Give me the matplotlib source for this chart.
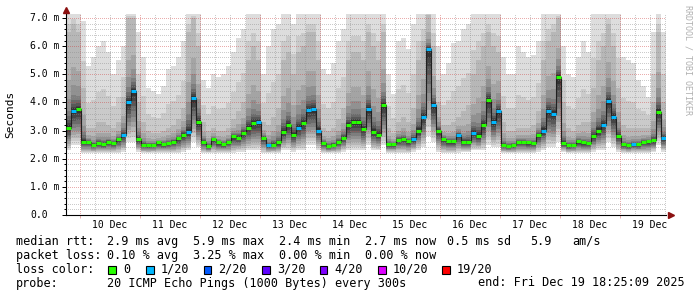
import numpy as np
import matplotlib
matplotlib.use('Agg')
import matplotlib.pyplot as plt
from matplotlib.patches import Rectangle
from datetime import datetime, timedelta

# graph window: 10 days ending Fri Dec 19 18:25:09 2025
start = datetime(2025, 12, 9, 18, 25, 9)
hours_total = 240

# median rtt per 2h step (ms)
median = [3.10, 3.70, 3.75, 2.60, 2.60, 2.50, 2.56, 2.53, 2.60, 2.55,
          2.70, 2.85, 4.00, 4.40, 2.70, 2.50, 2.48, 2.50, 2.58, 2.53,
          2.56, 2.60, 2.72, 2.86, 2.95, 4.15, 3.30, 2.60, 2.45, 2.70,
          2.58, 2.53, 2.60, 2.80, 2.75, 2.92, 3.10, 3.26, 3.30, 2.75,
          2.48, 2.50, 2.58, 2.95, 3.20, 2.85, 3.10, 3.26, 3.73, 3.76,
          3.00, 2.55, 2.45, 2.50, 2.60, 2.75, 3.20, 3.30, 3.30, 3.05,
          3.76, 2.95, 2.85, 3.90, 2.52, 2.52, 2.68, 2.70, 2.62, 2.70,
          3.00, 3.50, 5.90, 3.90, 3.00, 2.70, 2.62, 2.62, 2.85, 2.60,
          2.60, 2.92, 2.80, 3.20, 4.10, 3.30, 3.70, 2.50, 2.45, 2.48,
          2.60, 2.60, 2.58, 2.56, 2.85, 3.00, 3.70, 3.60, 4.90, 2.55,
          2.47, 2.50, 2.62, 2.58, 2.55, 2.80, 3.00, 3.20, 4.05, 3.50,
          2.80, 2.52, 2.47, 2.53, 2.52, 2.60, 2.62, 2.65, 3.67, 2.73]

# lost pings per step (index into loss_levels)
loss = [0, 1, 0, 0, 0, 0, 0, 0, 0, 0,
        0, 1, 1, 1, 0, 0, 0, 0, 0, 0,
        0, 0, 0, 0, 1, 1, 0, 0, 0, 0,
        0, 0, 0, 0, 0, 0, 0, 0, 1, 0,
        1, 0, 0, 0, 0, 0, 1, 0, 1, 1,
        1, 0, 0, 0, 0, 0, 0, 0, 0, 0,
        1, 0, 0, 0, 0, 0, 0, 0, 0, 1,
        0, 1, 1, 1, 0, 0, 0, 0, 1, 0,
        0, 1, 0, 0, 0, 1, 1, 0, 0, 0,
        0, 0, 0, 0, 0, 1, 1, 1, 0, 0,
        0, 0, 0, 0, 0, 0, 0, 1, 1, 1,
        0, 0, 0, 1, 0, 0, 0, 0, 0, 1]

# smoke: fastest ping, 3rd slowest ping, slowest ping (ms)
ping_min = [2.30, 2.50, 2.50, 2.20, 2.20, 2.20, 2.20, 2.20, 2.20, 2.20,
            2.20, 2.25, 2.60, 2.60, 2.25, 2.20, 2.20, 2.20, 2.20, 2.20,
            2.20, 2.20, 2.20, 2.25, 2.30, 2.60, 2.40, 2.20, 2.20, 2.20,
            2.20, 2.20, 2.20, 2.20, 2.25, 2.25, 2.30, 2.30, 2.30, 2.20,
            2.20, 2.20, 2.20, 2.30, 2.30, 2.25, 2.30, 2.30, 2.50, 2.50,
            2.30, 2.20, 2.20, 2.20, 2.20, 2.25, 2.30, 2.30, 2.30, 2.30,
            2.50, 2.30, 2.30, 2.50, 2.20, 2.20, 2.20, 2.20, 2.20, 2.25,
            2.30, 2.40, 2.80, 2.60, 2.25, 2.20, 2.20, 2.20, 2.20, 2.25,
            2.25, 2.30, 2.30, 2.30, 2.50, 2.40, 2.40, 2.20, 2.20, 2.20,
            2.20, 2.20, 2.20, 2.20, 2.25, 2.30, 2.40, 2.40, 2.60, 2.25,
            2.20, 2.20, 2.20, 2.20, 2.20, 2.25, 2.30, 2.30, 2.60, 2.40,
            2.25, 2.20, 2.20, 2.20, 2.20, 2.20, 2.20, 2.25, 2.50, 2.25]

ping_q = [6.5, 6.8, 6.5, 4.5, 3.1, 3.1, 3.3, 3.3, 3.2, 3.1,
          3.3, 4.2, 7.0, 7.0, 4.0, 3.3, 3.0, 2.9, 2.9, 3.0,
          3.1, 3.2, 3.4, 3.8, 6.5, 7.0, 6.0, 3.3, 3.0, 3.1,
          3.0, 3.0, 3.1, 3.4, 3.7, 4.0, 5.5, 6.0, 5.5, 3.3,
          3.2, 3.5, 3.8, 5.5, 5.8, 5.0, 5.8, 6.0, 6.5, 6.5,
          5.5, 3.1, 3.0, 3.1, 3.4, 3.8, 5.5, 5.8, 5.8, 5.5,
          6.5, 6.0, 5.5, 6.5, 3.1, 2.9, 3.3, 3.5, 3.3, 3.8,
          5.5, 6.2, 7.1, 6.0, 4.0, 3.2, 3.2, 3.3, 3.5, 3.7,
          3.9, 5.0, 5.5, 6.0, 6.5, 6.0, 5.8, 3.3, 3.0, 3.0,
          3.1, 3.1, 3.1, 3.2, 3.7, 5.5, 6.2, 6.5, 7.0, 4.0,
          3.1, 3.0, 3.2, 3.3, 3.3, 4.5, 5.5, 6.0, 6.8, 6.0,
          4.5, 3.2, 3.1, 3.1, 3.1, 3.1, 3.1, 4.0, 6.5, 4.0]

ping_max = [7.2, 7.2, 7.2, 6.9, 5.3, 5.6, 6.0, 6.2, 5.8, 5.0,
            5.5, 6.0, 7.2, 7.2, 6.5, 5.6, 4.5, 4.4, 4.3, 4.6,
            5.2, 5.3, 5.6, 6.2, 7.2, 7.2, 7.2, 4.8, 4.5, 5.0,
            4.9, 5.0, 5.3, 5.8, 6.3, 6.6, 7.2, 7.2, 7.2, 5.0,
            6.0, 6.6, 6.8, 7.2, 7.2, 6.8, 7.2, 7.2, 7.2, 7.2,
            7.2, 5.2, 5.0, 5.4, 6.2, 6.6, 7.2, 7.2, 7.2, 7.2,
            7.2, 7.2, 7.2, 7.2, 5.0, 4.3, 6.2, 6.3, 5.9, 6.8,
            7.2, 7.2, 7.2, 7.2, 6.0, 5.0, 5.4, 6.1, 6.2, 6.6,
            6.8, 7.2, 7.2, 7.2, 7.2, 7.2, 7.2, 5.6, 5.0, 5.0,
            6.0, 5.8, 5.6, 5.7, 6.2, 7.2, 7.2, 7.2, 7.2, 6.0,
            5.0, 4.9, 5.6, 6.2, 5.8, 7.2, 7.2, 7.2, 7.2, 7.2,
            7.2, 5.6, 5.5, 5.4, 4.8, 4.6, 4.2, 6.5, 7.2, 6.5]

loss_levels = ['0', '1/20', '2/20', '3/20', '4/20', '10/20', '19/20']
loss_colors = ['#26ff00', '#00b8ff', '#0059ff', '#5e00ff', '#7e00ff', '#dd00ff', '#ff0000']

W, H = 697, 297
x0, x1, y0 = 66, 666, 215
ppu = 28.14          # pixels per ms
ymax = 7.15

fig = plt.figure(figsize=(W / 100, H / 100), dpi=100)
fig.patch.set_facecolor('white')
ax = fig.add_axes([x0 / W, (H - y0) / H, (x1 - x0) / W, ymax * ppu / H])
ax.set_xlim(0, hours_total)
ax.set_ylim(0, ymax)

n = len(median)
step = hours_total / n
t = np.arange(n) * step + step / 2
med = np.array(median)
lo = np.array(ping_min)
q = np.array(ping_q)
hi = np.array(ping_max)

# smoke, 10 nested bands like smokeping (outer light -> inner dark)
# upper edges squeeze towards the median, lower edges spread evenly
up_frac = [None, None, None, 0.5, 0.3, 0.18, 0.12, 0.08, 0.05, 0.03]
for k in range(10):
    g = (9 - k) * 19 + 50
    if k == 0:
        top = hi
    elif k == 1:
        top = q + (hi - q) * 0.4
    elif k == 2:
        top = q
    else:
        top = med + (q - med) * up_frac[k]
    bot = lo + (med - lo) * k / 10
    ax.bar(t, top - bot, bottom=bot, width=step, color='#%02x%02x%02x' % (g, g, g),
           linewidth=0, zorder=1)

# grid (dotted, drawn over the smoke like rrdtool)
minor_c = (0.55, 0.55, 0.55, 0.45)
major_c = (0.8, 0.2, 0.2, 0.4)
dots = (0, (1, 2))
for v in np.arange(0.2, ymax, 0.2):
    if abs(v - round(v)) > 0.01:
        ax.axhline(v, color=minor_c, lw=0.72, ls=dots, zorder=2, antialiased=False)
for v in range(1, 8):
    ax.axhline(v, color=major_c, lw=0.72, ls=dots, zorder=2, antialiased=False)

first_mid = (datetime(2025, 12, 10) - start).total_seconds() / 3600
midnights = [first_mid + 24 * d for d in range(10)]
quarters = [first_mid - 6 + 6 * i for i in range(41) if first_mid - 6 + 6 * i < hours_total]
for qq in quarters:
    if min(abs(qq - m) for m in midnights) > 0.1:
        ax.axvline(qq, color=minor_c, lw=0.72, ls=dots, zorder=2, antialiased=False)
for m in midnights:
    ax.axvline(m, color=major_c, lw=0.72, ls=dots, zorder=2, antialiased=False)

# median line coloured by loss
ax.step(t, med, where='mid', color='#202020', lw=0.8, zorder=3)
ax.hlines(med, t - step / 2, t + step / 2, colors=[loss_colors[l] for l in loss],
          lw=2.2, zorder=4)

# axes
for s in ['top', 'right']:
    ax.spines[s].set_visible(False)
ax.spines['left'].set_linewidth(0.8)
ax.spines['bottom'].set_linewidth(0.8)
ax.set_yticks(range(0, 8))
ax.set_yticks(np.arange(0, ymax, 0.2), minor=True)
ax.set_xticks(midnights)
ax.set_xticks([], minor=True)
ax.tick_params(axis='y', which='major', length=3, width=0.72, labelleft=False)
ax.tick_params(axis='y', which='minor', length=1.5, width=0.72)
ax.tick_params(axis='x', length=2.5, width=0.72, color=major_c, labelbottom=False)
ax.plot([0], [ymax + 0.12], marker='^', color='#8b1010', ms=4.5, clip_on=False, zorder=6)
ax.plot([hours_total + 1.8], [0], marker='>', color='#8b1010', ms=4.5, clip_on=False, zorder=6)

mono = 'DejaVu Sans Mono'
for v in range(0, 8):
    lab = '%.1f m' % v if v > 0 else '0.0'
    fig.text(30 / W, 1 - (y0 - v * ppu) / H, lab, ha='left', va='center',
             family=mono, size=7.05)
for d in range(10):
    day = datetime(2025, 12, 10) + timedelta(days=d)
    noon = first_mid + 24 * d + 12
    fig.text((x0 + noon * 2.5) / W, 1 - 225 / H, '%d Dec' % day.day, ha='center',
             va='center', family=mono, size=7.05)

fig.text(10 / W, 1 - 114 / H, 'Seconds', rotation=90, ha='center', va='center',
         family=mono, size=8)
fig.text(688 / W, 1 - 60 / H, 'RRDTOOL / TOBI OETIKER', rotation=270, ha='center',
         va='center', family=mono, size=6, color='#b0b0b0')

# legend
fs = 8.45
def put(x, y, s):
    fig.text(x / W, 1 - y / H, s, ha='left', va='center', family=mono, size=fs)

put(16, 241.5, 'median rtt:')
for x, s in [(107, '2.9 ms avg'), (193, '5.9 ms max'), (279, '2.4 ms min'),
             (365, '2.7 ms now'), (447, '0.5 ms sd'), (530, '5.9'), (572, 'am/s')]:
    put(x, 241.5, s)
put(16, 255.5, 'packet loss:')
for x, s in [(107, '0.10 % avg'), (193, '3.25 % max'), (279, '0.00 % min'),
             (365, '0.00 % now')]:
    put(x, 255.5, s)
put(16, 269.5, 'loss color:')
box_x = [108, 146, 203.5, 262, 319.5, 378, 442]
for bx, lab, c in zip(box_x, loss_levels, loss_colors):
    fig.patches.append(Rectangle((bx / W, 1 - 273.5 / H), 7.5 / W, 8 / H,
                                 transform=fig.transFigure, facecolor=c,
                                 edgecolor='black', lw=0.8))
    put(bx + 15, 269.5, lab)
put(16, 283, 'probe:')
put(107, 283, '20 ICMP Echo Pings (1000 Bytes) every 300s')
put(478, 283, 'end: Fri Dec 19 18:25:09 2025')

fig.savefig('out.png', dpi=100, facecolor='white')
